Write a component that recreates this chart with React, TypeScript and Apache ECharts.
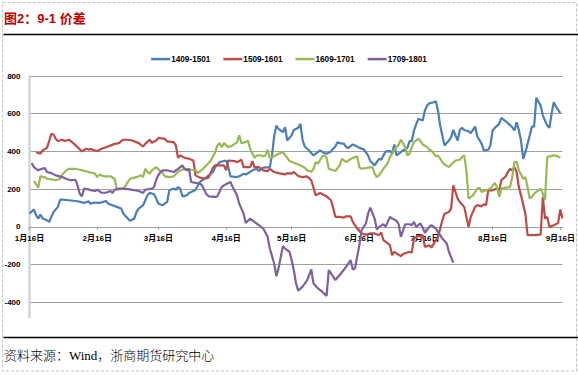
import React, { useEffect, useRef } from "react";
import * as echarts from "echarts";

const titleText = "图2：9-1 价差";
const sourceText = "资料来源：Wind，浙商期货研究中心";
const seriesNames = ["1409-1501", "1509-1601", "1609-1701", "1709-1801"];
const seriesColors = ["#4A7EBB", "#BE4B48", "#98B954", "#7D60A0"];
const yMin = -400;
const yMax = 800;
const yStep = 200;

// calendar span shown on the x axis (month, day), non-leap year
const startMonth = 1;
const startDay = 16;
const endMonth = 9;
const endDay = 17;
const monthLengths = [31, 28, 31, 30, 31, 30, 31, 31, 30, 31, 30, 31];

// [day offset from 1月16日, spread]
const data1409: [number, number][] = [[0,70],[2,92],[3,62],[4,44],[5,65],[6,44],[8,35],[9,26],[10,53],[11,79],[13,106],[14,144],[15,144],[18,141],[22,136],[25,127],[27,136],[28,123],[30,129],[32,127],[33,130],[35,137],[36,123],[38,115],[40,106],[42,97],[43,70],[45,44],[46,32],[48,44],[49,79],[50,97],[52,115],[53,141],[54,167],[55,180],[57,173],[58,150],[59,123],[61,115],[63,132],[64,194],[66,203],[67,197],[68,211],[69,203],[70,162],[72,167],[73,180],[75,190],[76,197],[78,238],[80,255],[82,273],[84,291],[85,317],[87,343],[89,349],[90,352],[91,317],[92,268],[95,264],[96,268],[98,282],[99,278],[101,291],[102,300],[104,308],[105,296],[106,308],[107,314],[110,317],[111,379],[112,480],[113,537],[114,520],[116,502],[117,528],[118,458],[120,485],[121,514],[123,525],[124,546],[125,462],[126,426],[128,405],[130,379],[132,396],[133,405],[135,391],[136,388],[138,400],[139,414],[140,426],[141,449],[142,444],[144,440],[145,423],[146,419],[148,437],[150,426],[151,419],[153,411],[155,379],[156,349],[158,326],[159,343],[160,361],[161,356],[163,400],[165,402],[166,391],[167,437],[168,379],[170,396],[171,405],[173,419],[174,455],[175,455],[176,511],[177,543],[178,573],[180,564],[181,617],[182,643],[183,655],[185,661],[186,666],[187,617],[188,537],[189,485],[190,432],[192,458],[193,476],[194,514],[195,485],[196,458],[197,514],[198,525],[199,514],[201,507],[202,497],[204,532],[205,479],[207,440],[208,405],[210,409],[211,432],[212,511],[213,525],[215,546],[216,578],[218,560],[219,550],[221,528],[222,511],[223,555],[224,514],[225,458],[226,361],[227,396],[228,440],[229,485],[230,532],[231,532],[232,684],[234,643],[235,590],[237,537],[238,525],[239,599],[240,661],[241,638],[243,603]];

const data1509: [number, number][] = [[3,396],[5,388],[6,405],[8,419],[9,455],[10,493],[11,490],[12,467],[13,455],[15,462],[16,455],[18,462],[20,444],[22,423],[24,400],[26,414],[27,410],[28,412],[30,405],[31,402],[33,414],[36,426],[39,440],[41,444],[42,455],[43,462],[45,462],[47,458],[50,444],[52,426],[53,440],[55,462],[56,446],[58,458],[59,472],[62,467],[63,453],[66,449],[67,432],[68,366],[69,379],[71,366],[73,361],[75,352],[76,273],[78,261],[80,255],[82,261],[84,314],[85,326],[89,326],[90,300],[91,352],[94,349],[95,343],[97,356],[98,317],[101,317],[102,349],[103,317],[105,317],[107,300],[109,296],[110,308],[112,291],[114,285],[117,278],[118,285],[120,282],[121,291],[123,270],[125,264],[127,268],[129,247],[130,208],[131,167],[133,180],[134,173],[136,162],[138,141],[139,102],[140,53],[142,53],[144,49],[145,56],[147,56],[148,26],[150,-9],[152,-35],[154,-41],[156,-35],[158,-35],[160,-44],[161,-30],[162,-70],[164,-88],[165,-97],[166,-150],[167,-132],[168,-141],[170,-155],[171,-144],[174,-132],[175,-137],[176,-62],[178,-49],[180,-44],[181,-106],[183,-97],[184,-110],[185,-90],[187,-53],[189,35],[190,70],[192,79],[193,97],[194,220],[195,185],[196,150],[197,132],[199,106],[200,53],[201,0],[202,53],[204,106],[205,115],[207,109],[208,120],[209,115],[210,194],[212,194],[214,203],[215,190],[216,247],[218,268],[219,291],[220,308],[221,300],[222,317],[223,291],[224,211],[225,167],[227,70],[228,-44],[231,-44],[234,-41],[235,159],[236,44],[237,53],[238,0],[240,9],[242,21],[243,92],[244,44]];

const data1609: [number, number][] = [[2,243],[3,226],[4,208],[5,268],[7,264],[8,255],[11,250],[12,247],[14,255],[15,278],[17,300],[18,308],[21,308],[24,300],[27,291],[30,282],[31,264],[32,277],[34,268],[37,268],[39,255],[40,197],[43,203],[44,220],[46,255],[48,261],[50,268],[51,273],[52,264],[53,308],[54,291],[55,282],[56,300],[58,317],[60,295],[61,285],[62,268],[64,264],[66,268],[68,291],[69,300],[72,308],[74,303],[76,300],[77,285],[79,303],[81,326],[83,352],[85,396],[86,432],[87,444],[88,423],[89,444],[91,423],[93,432],[95,449],[96,485],[97,444],[99,449],[100,458],[101,414],[103,366],[104,379],[106,379],[107,374],[108,379],[109,409],[110,366],[112,374],[114,388],[116,396],[118,366],[119,349],[121,340],[123,331],[124,326],[126,314],[127,300],[129,291],[130,308],[131,343],[132,335],[134,374],[135,379],[136,366],[137,308],[139,300],[140,296],[142,326],[143,361],[145,343],[146,352],[148,366],[150,374],[151,317],[152,308],[155,314],[157,317],[158,282],[159,264],[160,273],[162,308],[164,338],[165,370],[166,388],[167,409],[169,437],[170,462],[172,423],[173,379],[174,388],[175,423],[176,449],[178,467],[179,455],[180,437],[182,423],[183,409],[184,405],[186,374],[187,379],[189,344],[190,331],[192,317],[193,331],[195,352],[197,356],[198,370],[199,379],[200,300],[201,150],[203,167],[204,185],[205,203],[206,208],[207,185],[209,194],[211,203],[213,233],[214,211],[215,159],[216,203],[218,208],[220,211],[221,264],[222,344],[223,344],[224,300],[226,255],[227,264],[228,211],[229,150],[230,159],[231,176],[234,203],[235,176],[236,141],[237,370],[238,374],[240,379],[242,374],[243,366]];

const data1709: [number, number][] = [[1,338],[2,317],[4,300],[5,305],[7,312],[8,291],[10,285],[12,273],[15,264],[17,254],[19,247],[21,250],[22,220],[23,176],[24,162],[25,203],[27,199],[28,194],[30,190],[31,197],[33,181],[35,181],[37,190],[38,180],[39,197],[41,203],[43,203],[46,199],[48,194],[50,190],[52,180],[53,197],[56,203],[57,211],[58,250],[59,275],[60,290],[61,300],[63,300],[66,291],[68,308],[70,326],[71,308],[72,300],[73,308],[74,238],[76,233],[78,229],[79,220],[81,173],[82,162],[85,159],[86,162],[88,211],[89,220],[91,233],[92,238],[93,211],[95,167],[96,123],[98,70],[99,21],[101,44],[103,26],[105,9],[107,-9],[109,-53],[110,-115],[112,-194],[113,-261],[114,-220],[116,-102],[117,-115],[119,-132],[120,-176],[121,-230],[122,-300],[123,-338],[125,-317],[127,-285],[129,-226],[130,-300],[132,-326],[134,-344],[136,-366],[137,-229],[139,-264],[140,-282],[142,-255],[144,-226],[145,-211],[147,-176],[148,-226],[149,-220],[151,-97],[152,-18],[154,18],[155,70],[156,102],[158,44],[159,-14],[160,0],[162,14],[163,0],[165,53],[166,44],[168,32],[169,14],[170,-53],[172,14],[174,14],[175,9],[176,26],[177,0],[179,18],[180,-4],[181,-32],[183,0],[184,9],[186,-9],[188,-44],[189,-62],[191,-88],[192,-132],[194,-190]];

const allData = [data1409, data1509, data1609, data1709];

function buildCategories(): string[] {
  const out: string[] = [];
  let m = startMonth;
  let d = startDay;
  while (true) {
    out.push(`${m}月${d}日`);
    if (m === endMonth && d === endDay) break;
    d += 1;
    if (d > monthLengths[m - 1]) {
      d = 1;
      m += 1;
    }
  }
  return out;
}

const FONT = "'Liberation Sans', Arial, 'Noto Sans CJK SC', sans-serif";

export default function App() {
  const ref = useRef<HTMLDivElement>(null);

  useEffect(() => {
    if (!ref.current) return;
    const chart = echarts.init(ref.current, undefined, { renderer: "svg" });
    const categories = buildCategories();
    const isMajor = (index: number) => /月16日$/.test(categories[index]);

    const gridLeft = 29.5;
    const gridTop = 76;
    const gridBottomY = 302.3;
    const plotHeight = gridBottomY - gridTop;
    // move the category axis up to the zero line of the value axis
    const zeroOffset = -((0 - yMin) / (yMax - yMin)) * plotHeight;

    chart.setOption({
      animation: false,
      backgroundColor: "#ffffff",
      legend: {
        data: seriesNames,
        top: 50,
        left: "center",
        itemWidth: 19,
        itemHeight: 2.5,
        itemGap: 13,
        icon: "rect",
        textStyle: {
          fontFamily: FONT,
          fontSize: 8.2,
          fontWeight: "bold",
          color: "#000",
          padding: [0, 0, 0, -4],
        },
      },
      grid: {
        left: gridLeft,
        right: 578 - 564.3,
        top: gridTop,
        bottom: 375 - gridBottomY,
        containLabel: false,
      },
      xAxis: {
        type: "category",
        data: categories,
        boundaryGap: false,
        position: "bottom",
        offset: zeroOffset,
        axisLine: { onZero: false, lineStyle: { color: "#A0A0A0", width: 1 } },
        axisTick: {
          show: true,
          length: 3,
          interval: (i: number) => isMajor(i),
          lineStyle: { color: "#A0A0A0" },
        },
        axisLabel: {
          interval: (i: number) => isMajor(i),
          fontFamily: FONT,
          fontSize: 8,
          fontWeight: "bold",
          color: "#000",
          margin: 8,
        },
        splitLine: { show: false },
      },
      yAxis: {
        type: "value",
        min: yMin,
        max: yMax,
        interval: yStep,
        axisLine: { show: true, lineStyle: { color: "#D4D4D4", width: 2.5 } },
        axisTick: { show: false },
        axisLabel: {
          fontFamily: FONT,
          fontSize: 8,
          fontWeight: "bold",
          color: "#000",
          margin: 9,
        },
        splitLine: { show: true, lineStyle: { color: "#A0A0A0", width: 1 } },
      },
      series: allData.map((arr, k) => ({
        name: seriesNames[k],
        type: "line",
        data: arr.map(([d, v]) => [categories[d], v]),
        symbol: "none",
        color: seriesColors[k],
        lineStyle: { color: seriesColors[k], width: 2.2 },
      })),
      graphic: [
        {
          type: "rect",
          shape: { x: 2.5, y: 2.5, width: 574, height: 368.5 },
          style: { fill: "none", stroke: "#BFBFBF", lineWidth: 1, lineDash: [3, 2] },
          silent: true,
        },
        {
          type: "text",
          x: 4,
          y: 18.5,
          style: {
            text: titleText,
            fill: "#C00000",
            fontSize: 13,
            fontWeight: "bold",
            fontFamily: FONT,
            align: "left",
            verticalAlign: "middle",
          },
        },
        {
          type: "line",
          shape: { x1: 3.5, y1: 34.5, x2: 578, y2: 34.5 },
          style: { stroke: "#000", lineWidth: 1.5 },
        },
        {
          type: "line",
          shape: { x1: gridLeft, y1: gridBottomY, x2: gridLeft, y2: 318 },
          style: { stroke: "#D4D4D4", lineWidth: 2.5 },
        },
        {
          type: "line",
          shape: { x1: 3.5, y1: 337.5, x2: 578, y2: 337.5 },
          style: { stroke: "#000", lineWidth: 1.5 },
        },
        {
          type: "text",
          x: 4,
          y: 355,
          style: {
            text: sourceText,
            fill: "#000",
            fontSize: 13,
            fontWeight: 300,
            fontFamily: "'Liberation Serif', 'Times New Roman', 'Noto Sans CJK SC', serif",
            align: "left",
            verticalAlign: "middle",
          },
        },
      ],
    });

    return () => chart.dispose();
  }, []);

  return (
    <div
      ref={ref}
      style={{ position: "absolute", left: 0, top: 0, width: 578, height: 375, background: "#fff" }}
    />
  );
}
